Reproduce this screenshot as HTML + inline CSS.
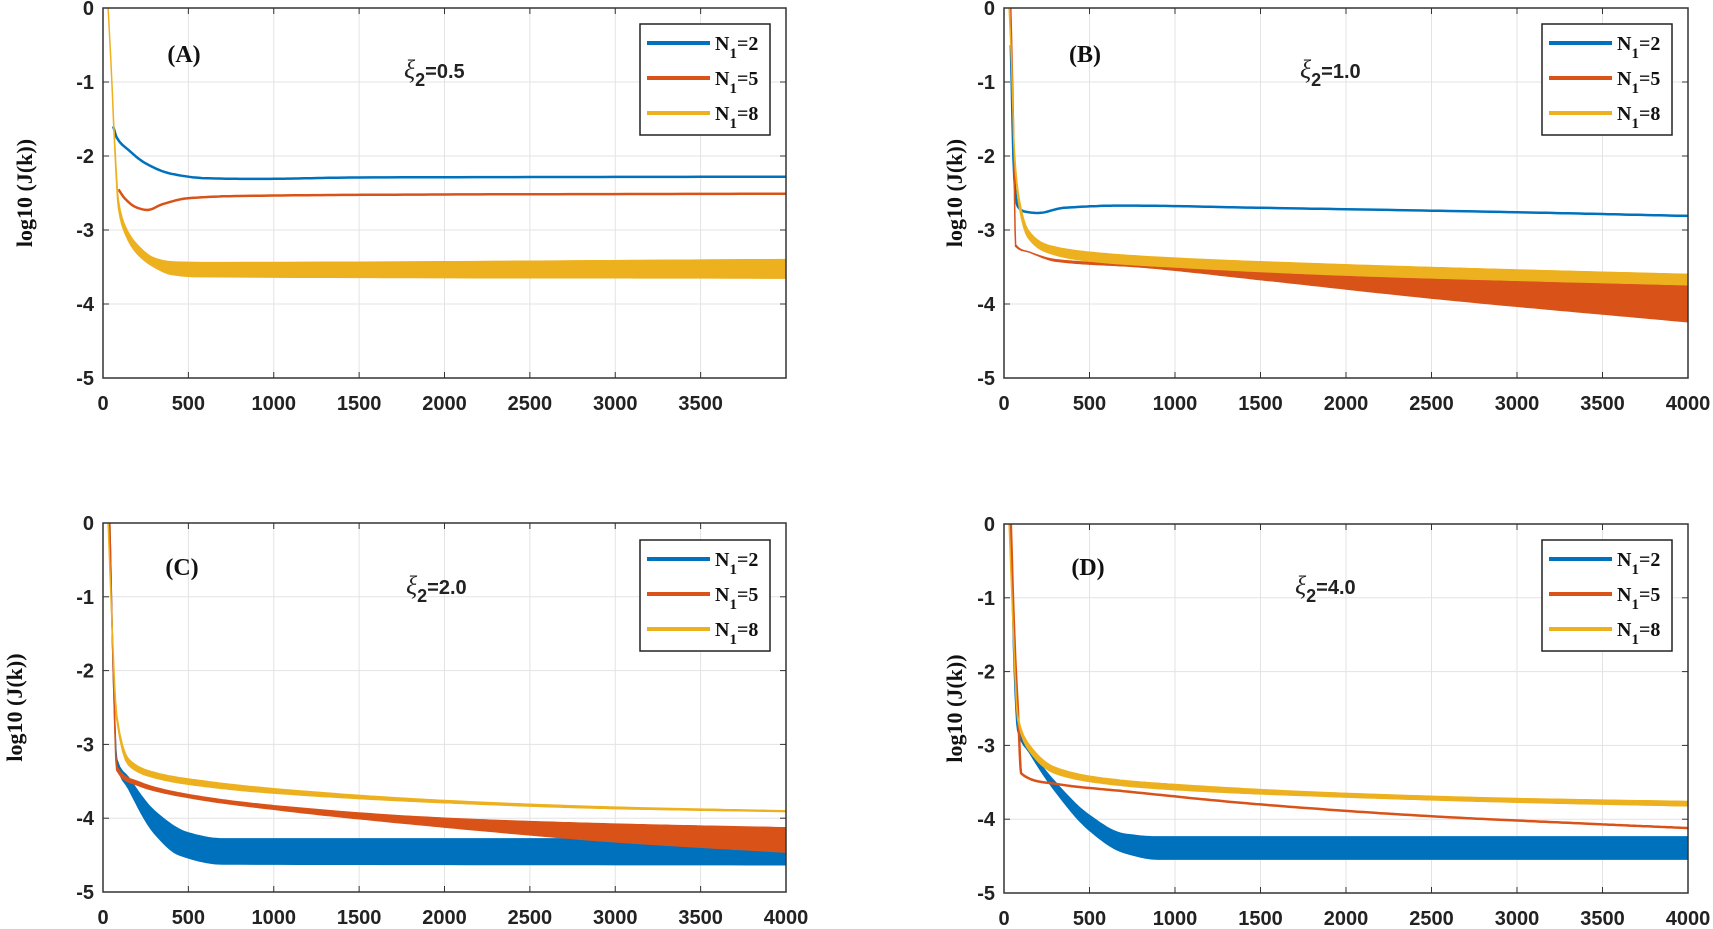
<!DOCTYPE html>
<html><head><meta charset="utf-8"><style>
html,body{margin:0;padding:0;background:#fff;}
svg{display:block;}
.t{font-family:"Liberation Sans",Arial,sans-serif;font-weight:bold;font-size:20px;fill:#222;}
.s{font-family:"Liberation Serif",serif;font-weight:bold;fill:#111;}
</style></head><body>
<svg id="g" width="1713" height="929" xmlns="http://www.w3.org/2000/svg"></svg>
<script>
const NS="http://www.w3.org/2000/svg";const g=document.getElementById('g');
function el(t,a,txt){const e=document.createElementNS(NS,t);for(const k in a)e.setAttribute(k,a[k]);if(txt!==undefined)e.textContent=txt;g.appendChild(e);return e;}
const BL='#0072bd',RD='#d95319',YL='#edb120';
function cr(p){// monotone cubic in x
 const n=p.length,d=[],m=[];
 for(let i=0;i<n-1;i++)d.push((p[i+1][1]-p[i][1])/(p[i+1][0]-p[i][0]));
 m[0]=d[0];m[n-1]=d[n-2];
 for(let i=1;i<n-1;i++){if(d[i-1]*d[i]<=0)m[i]=0;else{const h0=p[i][0]-p[i-1][0],h1=p[i+1][0]-p[i][0];const w1=2*h1+h0,w2=h1+2*h0;m[i]=(w1+w2)/(w1/d[i-1]+w2/d[i]);}}
 const out=[];
 for(let i=0;i<n-1;i++){const h=p[i+1][0]-p[i][0];const N=Math.max(4,Math.min(30,Math.ceil(h/20)));
  for(let j=0;j<N;j++){const t=j/N,t2=t*t,t3=t2*t;
   const y=(2*t3-3*t2+1)*p[i][1]+(t3-2*t2+t)*h*m[i]+(-2*t3+3*t2)*p[i+1][1]+(t3-t2)*h*m[i+1];
   out.push([p[i][0]+t*h,y]);}}
 out.push(p[n-1]);return out;}
function panel(P){
 const {L,T,R,B}=P;const W=R-L,H=B-T;
 const X=k=>L+k*W/4000,Y=v=>T-v*H/5;
 for(let i=1;i<8;i++)el('line',{x1:X(i*500),x2:X(i*500),y1:T,y2:B,stroke:'#e3e3e3','stroke-width':1});
 for(let i=1;i<5;i++)el('line',{x1:L,x2:R,y1:Y(-i),y2:Y(-i),stroke:'#e3e3e3','stroke-width':1});
 for(let i=0;i<=8;i++){el('line',{x1:X(i*500),x2:X(i*500),y1:B,y2:B-6,stroke:'#333'});el('line',{x1:X(i*500),x2:X(i*500),y1:T,y2:T+6,stroke:'#333'});}
 for(let i=0;i<=5;i++){el('line',{x1:L,x2:L+6,y1:Y(-i),y2:Y(-i),stroke:'#333'});el('line',{x1:R,x2:R-6,y1:Y(-i),y2:Y(-i),stroke:'#333'});
  el('text',{class:'t',x:L-9,y:Y(-i)+7,'text-anchor':'end'},i?'-'+i:'0');}
 const nx=P.noLast?7:8;
 for(let i=0;i<=nx;i++)el('text',{class:'t',x:X(i*500),y:B+32,'text-anchor':'middle'},String(i*500));
 const cp=`c${P.L}${P.T}`;const c=el('clipPath',{id:cp});
 const r=document.createElementNS(NS,'rect');r.setAttribute('x',L);r.setAttribute('y',T);r.setAttribute('width',W);r.setAttribute('height',H);c.appendChild(r);
 for(const s of P.series){
  const m=p=>X(p[0]).toFixed(1)+','+Y(p[1]).toFixed(1);
  if(s.lo){const u=cr(s.up),l=cr(s.lo).reverse();el('polygon',{points:u.concat(l).map(m).join(' '),fill:s.c,stroke:s.c,'stroke-width':1.5,'stroke-linejoin':'round','clip-path':`url(#${cp})`});}
  else el('polyline',{points:cr(s.up).map(m).join(' '),fill:'none',stroke:s.c,'stroke-width':s.w||2,'stroke-linejoin':'round','clip-path':`url(#${cp})`});
 }
 el('rect',{x:L,y:T,width:W,height:H,fill:'none',stroke:'#333','stroke-width':1.5});
 const lx=P.lg[0],ly=P.lg[1];
 el('rect',{x:lx,y:ly,width:130,height:111,fill:'#fff',stroke:'#222','stroke-width':1.5});
 [[BL,'2'],[RD,'5'],[YL,'8']].forEach((c,i)=>{const yy=ly+19+i*35;
  el('line',{x1:lx+7,x2:lx+70,y1:yy,y2:yy,stroke:c[0],'stroke-width':4});
  const t=el('text',{class:'s',x:lx+75,y:yy+7,'font-size':20});t.innerHTML='N<tspan dy="8" font-size="15">1</tspan><tspan dy="-8">=</tspan>'+c[1];});
 el('text',{class:'s',x:P.lab[0],y:P.lab[1],'font-size':24,'text-anchor':'middle'},P.name);
 const q=el('text',{class:'t',x:P.xi[0],y:P.xi[1],'font-size':23});q.innerHTML='<tspan font-family="Liberation Serif" font-style="italic" font-weight="normal" font-size="26">ξ</tspan><tspan dy="8" font-size="18">2</tspan><tspan dy="-8">='+P.xv+'</tspan>';
 el('text',{class:'s',transform:`translate(${P.yl},${(T+B)/2}) rotate(-90)`,'text-anchor':'middle','font-size':22},'log10 (J(k))');
}
panel({L:103,T:8,R:786,B:378,noLast:true,lg:[640,24],lab:[184,62],name:'(A)',xi:[404,78],xv:'0.5',yl:32,series:[
 {c:BL,up:[[60,-1.6],[80,-1.75],[150,-1.92],[250,-2.1],[400,-2.24],[600,-2.3],[900,-2.31],[1500,-2.29],[4000,-2.28]],w:2.5},
 {c:RD,up:[[90,-2.45],[130,-2.58],[200,-2.7],[260,-2.73],[350,-2.65],[500,-2.57],[800,-2.54],[2000,-2.52],[4000,-2.51]],w:2.5},
 {c:YL,up:[[30,0],[50,-0.9],[70,-1.9],[90,-2.6],[130,-2.95],[200,-3.2],[300,-3.38],[400,-3.43],[600,-3.44],[4000,-3.4]],lo:[[30,0],[50,-0.9],[70,-1.95],[90,-2.7],[130,-3.05],[200,-3.32],[300,-3.5],[400,-3.6],[550,-3.63],[4000,-3.65]]}
]});
panel({L:1004,T:8,R:1688,B:378,lg:[1542,24],lab:[1085,62],name:'(B)',xi:[1300,78],xv:'1.0',yl:962,series:[
 {c:BL,up:[[40,-0.5],[60,-2.3],[80,-2.68],[120,-2.75],[200,-2.77],[350,-2.7],[700,-2.67],[1500,-2.7],[3000,-2.76],[4000,-2.81]],w:2.5},
 {c:RD,up:[[40,0],[55,-1.5],[68,-3.2],[150,-3.3],[300,-3.4],[600,-3.45],[1500,-3.55],[2500,-3.62],[4000,-3.74]],lo:[[40,0],[55,-1.5],[68,-3.22],[150,-3.3],[300,-3.42],[800,-3.5],[1500,-3.67],[2500,-3.92],[4000,-4.24]]},
 {c:YL,up:[[30,0],[45,-0.8],[60,-1.9],[90,-2.6],[140,-3.0],[250,-3.2],[500,-3.3],[1000,-3.38],[2000,-3.47],[3000,-3.54],[4000,-3.6]],lo:[[30,0],[45,-0.8],[60,-1.95],[90,-2.7],[140,-3.1],[250,-3.3],[500,-3.42],[1000,-3.5],[2000,-3.61],[3000,-3.68],[4000,-3.74]]}
]});
panel({L:103,T:523,R:786,B:892,lg:[640,540],lab:[182,575],name:'(C)',xi:[406,594],xv:'2.0',yl:22,series:[
 {c:BL,up:[[40,0],[60,-2.0],[80,-3.2],[150,-3.45],[300,-3.9],[500,-4.2],[700,-4.28],[4000,-4.28]],lo:[[40,0],[60,-2.0],[80,-3.25],[150,-3.6],[300,-4.2],[450,-4.5],[700,-4.62],[4000,-4.63]]},
 {c:RD,up:[[40,0],[60,-2.0],[80,-3.3],[200,-3.5],[500,-3.68],[1000,-3.83],[2000,-4.0],[3000,-4.08],[4000,-4.13]],lo:[[40,0],[60,-2.0],[80,-3.35],[200,-3.55],[500,-3.72],[1000,-3.88],[2000,-4.12],[3000,-4.32],[4000,-4.46]]},
 {c:YL,up:[[30,0],[50,-1.2],[80,-2.6],[150,-3.2],[300,-3.38],[600,-3.5],[1000,-3.6],[2000,-3.76],[3000,-3.85],[4000,-3.9]],lo:[[30,0],[50,-1.2],[80,-2.65],[150,-3.28],[300,-3.45],[600,-3.57],[1000,-3.66],[2000,-3.79],[3000,-3.87],[4000,-3.91]]}
]});
panel({L:1004,T:524,R:1688,B:893,lg:[1542,540],lab:[1088,575],name:'(D)',xi:[1295,594],xv:'4.0',yl:962,series:[
 {c:BL,up:[[40,0],[60,-2.0],[80,-2.75],[150,-3.05],[300,-3.5],[500,-3.95],[700,-4.2],[900,-4.24],[4000,-4.24]],lo:[[40,0],[60,-2.0],[80,-2.8],[150,-3.1],[300,-3.62],[500,-4.15],[700,-4.45],[900,-4.54],[4000,-4.54]]},
 {c:RD,up:[[40,0],[60,-1.5],[85,-2.7],[100,-3.38],[300,-3.52],[700,-3.62],[1500,-3.8],[2500,-3.96],[3500,-4.07],[4000,-4.12]],w:2.5},
 {c:YL,up:[[30,0],[50,-1.2],[80,-2.6],[150,-3.0],[300,-3.3],[600,-3.45],[1000,-3.53],[2000,-3.65],[3000,-3.72],[4000,-3.76]],lo:[[30,0],[50,-1.2],[80,-2.65],[150,-3.08],[300,-3.38],[600,-3.52],[1000,-3.6],[2000,-3.7],[3000,-3.77],[4000,-3.82]]}
]});
</script>
</body></html>
